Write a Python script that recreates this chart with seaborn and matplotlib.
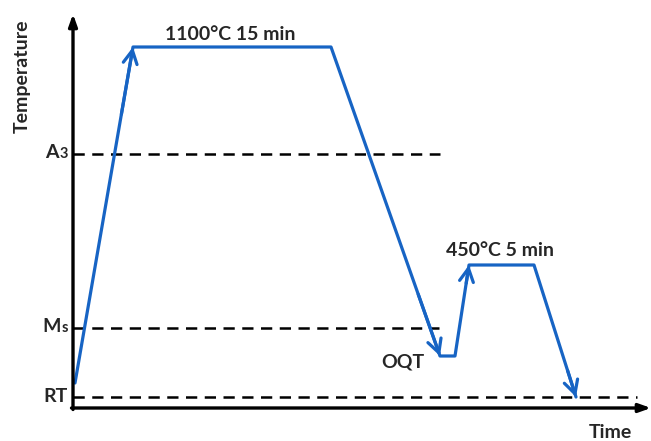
import matplotlib
matplotlib.use("Agg")
import matplotlib.pyplot as plt
import seaborn as sns
import pandas as pd

# Heat-treatment schedule (arbitrary time / temperature units)
time = [2, 60, 258, 367, 382, 396, 461, 503]
temp = [25, 361, 361, 52, 52, 143, 143, 11]
arrow_ends = [1, 3, 5, 7]          # indices of path points carrying an arrowhead

# Reference temperature levels and how far their dashed lines run
level_names = ["A", "M", "RT"]
level_subs = ["3", "s", ""]
level_values = [254, 80, 11]
level_ends = [367, 366, 564]

# Annotations
stage_labels = ["1100°C 15 min", "450°C 5 min", "OQT"]
stage_pos = [(157, 374), (427, 158), (330, 46)]

sns.set_style("white")
plt.rcParams["font.family"] = ["Lato", "DejaVu Sans"]
plt.rcParams["font.weight"] = "bold"

BLUE = "#1764c4"
FS = 14

fig = plt.figure(figsize=(6.51, 4.41), dpi=100)
ax = fig.add_axes([0, 0, 1, 1])
ax.set_xlim(-73, 578)
ax.set_ylim(-33, 408)
ax.axis("off")

# Reference levels
for v, end in zip(level_values, level_ends):
    ax.plot([0, end], [v, v], color="black", lw=1.8, ls=(0, (4.5, 3)))

# Treatment path
df = pd.DataFrame({"time": time, "temp": temp})
sns.lineplot(data=df, x="time", y="temp", sort=False, estimator=None,
             color=BLUE, lw=2.3, ax=ax)

for i in arrow_ends:
    x0, y0 = time[i - 1], temp[i - 1]
    x1, y1 = time[i], temp[i]
    f = 0.2
    ax.annotate("", xy=(x1, y1), xytext=(x1 - (x1 - x0) * f, y1 - (y1 - y0) * f),
                arrowprops=dict(arrowstyle="->,head_length=0.95,head_width=0.5",
                                color=BLUE, lw=2.3, shrinkA=0, shrinkB=0))

# Axes with arrowheads
ax.annotate("", xy=(0, 394), xytext=(0, -1.5),
            arrowprops=dict(arrowstyle="-|>,head_length=0.7,head_width=0.25",
                            color="black", lw=2.4, shrinkA=0, shrinkB=0))
ax.annotate("", xy=(578, 0), xytext=(-1.5, 0),
            arrowprops=dict(arrowstyle="-|>,head_length=0.7,head_width=0.25",
                            color="black", lw=2.4, shrinkA=0, shrinkB=0))

# Level labels (main letter plus a smaller trailing character)
sub_widths = {"3": -6.5, "s": -5.0}
for name, sub, v in zip(level_names, level_subs, level_values):
    if sub:
        ax.annotate(sub, xy=(-5, v), xytext=(0, 0), textcoords="offset points",
                    ha="right", va="center", fontsize=FS * 0.75, fontweight="bold")
        ax.annotate(name, xy=(-5, v), xytext=(sub_widths[sub], 1),
                    textcoords="offset points",
                    ha="right", va="center", fontsize=FS, fontweight="bold")
    else:
        ax.annotate(name, xy=(-5, v), xytext=(0, 0), textcoords="offset points",
                    ha="right", va="center", fontsize=FS, fontweight="bold")

for txt, (x, y) in zip(stage_labels, stage_pos):
    ax.text(x, y, txt, ha="center", va="center", fontsize=FS, fontweight="bold")

ax.text(-51, 332, "Temperature", rotation=90, ha="center", va="center",
        fontsize=FS, fontweight="bold")
ax.text(537, -24, "Time", ha="center", va="center", fontsize=FS, fontweight="bold")

fig.savefig("out.png", dpi=100)
